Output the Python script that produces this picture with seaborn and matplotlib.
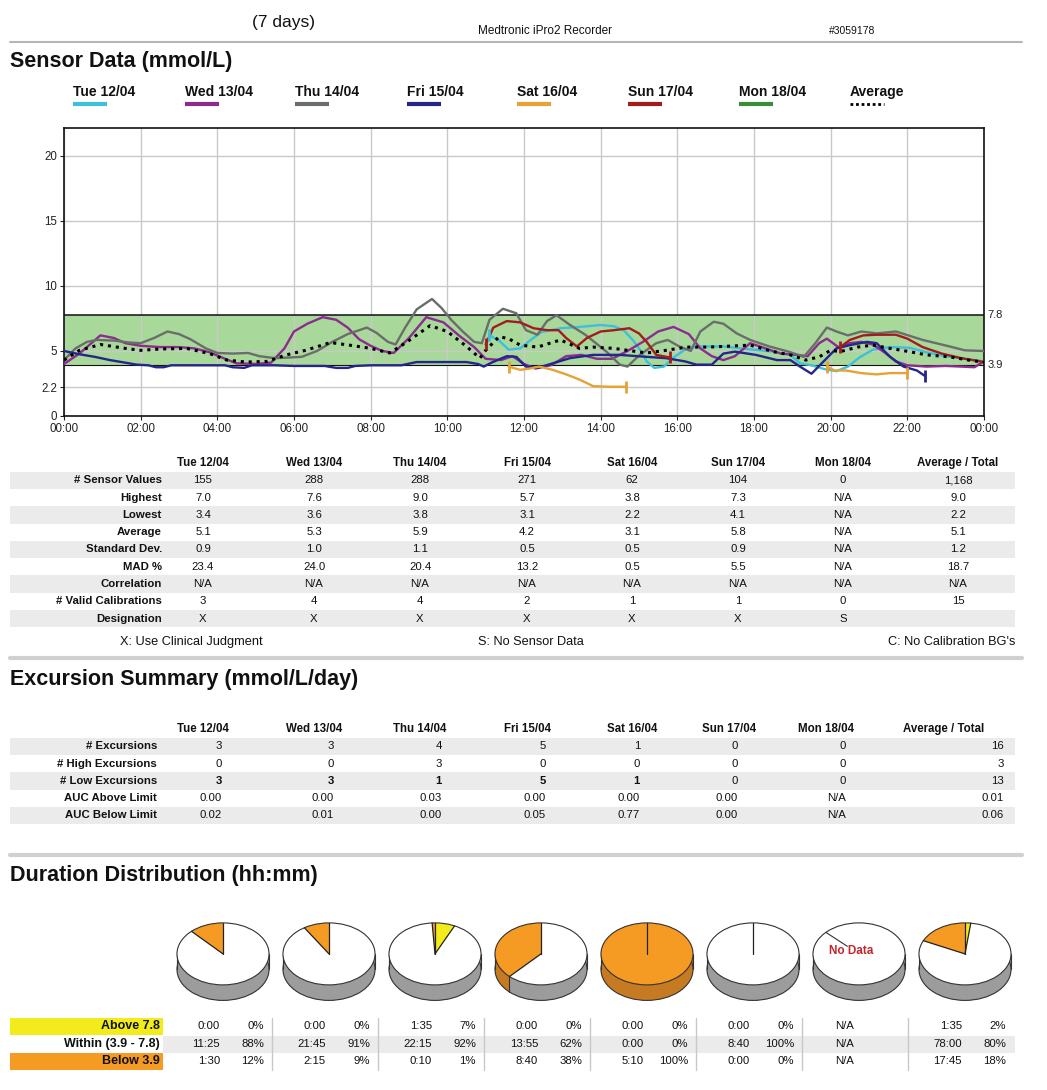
import numpy as np
import pandas as pd
import matplotlib
matplotlib.use('Agg')
import matplotlib.pyplot as plt
import seaborn as sns
from matplotlib.patches import Rectangle, Circle

sns.set_theme(style='white')
plt.rcParams['font.family'] = ['Liberation Sans', 'DejaVu Sans']

# ---------------- data ----------------
days = ['Tue 12/04', 'Wed 13/04', 'Thu 14/04', 'Fri 15/04', 'Sat 16/04', 'Sun 17/04', 'Mon 18/04']
day_colors = ['#3ebfdc', '#8c2c8f', '#6a6e6a', '#25258c', '#e6a234', '#a31c1c', '#3a8c3a']
legend_labels = days + ['Average']

tue_t = [11.1, 11.35, 11.6, 11.9, 12.2, 12.45, 12.95, 13.45, 14.0, 14.35, 14.6, 14.85, 15.05, 15.2, 15.4,
         15.65, 15.9, 16.25, 16.6, 17.2, 17.65, 18.0, 18.5, 18.95, 19.2, 19.5, 19.85, 20.15, 20.45, 20.75,
         21.1, 21.55, 22.05, 22.5, 23.0, 23.5, 24.0]
tue_v = [6.2, 5.8, 5.1, 5.2, 5.9, 6.45, 6.75, 6.85, 7.0, 6.9, 6.6, 5.8, 5.0, 4.2, 3.7,
         3.8, 4.5, 5.2, 5.35, 5.35, 5.2, 5.1, 4.95, 4.7, 4.05, 3.9, 3.6, 3.45, 3.8, 4.5,
         5.1, 5.3, 5.25, 4.9, 4.6, 4.4, 4.2]

wed_t = [0, 0.4, 0.95, 1.3, 1.6, 2.0, 2.5, 3.0, 3.4, 3.8, 4.2, 4.5, 5.0, 5.4, 5.75, 6.0, 6.35, 6.75, 7.1,
         7.4, 7.7, 8.0, 8.3, 8.6, 9.0, 9.45, 9.9, 10.3, 10.7, 11.0, 11.4, 11.7, 12.0, 12.3, 12.7, 13.1,
         13.5, 13.9, 14.3, 14.7, 15.1, 15.5, 15.9, 16.3, 16.6, 16.9, 17.2, 17.5, 17.9, 18.3, 18.7, 19.1,
         19.4, 19.7, 19.9, 20.2, 20.5, 20.8, 21.1, 21.4, 21.7, 22.0, 22.5, 23.0, 23.4, 23.75, 24.0]
wed_v = [4.0, 4.8, 6.2, 6.0, 5.6, 5.4, 5.3, 5.3, 5.2, 4.9, 4.4, 4.05, 4.0, 4.1, 5.2, 6.5, 7.1, 7.6, 7.4,
         6.8, 5.9, 5.4, 5.0, 4.85, 6.0, 7.6, 7.2, 6.2, 5.3, 4.4, 4.3, 4.6, 4.0, 3.65, 3.9, 4.6,
         4.7, 4.4, 4.4, 5.0, 5.7, 6.5, 6.85, 6.3, 5.2, 4.6, 4.3, 4.6, 5.6, 5.2, 4.8, 4.7,
         4.6, 5.6, 5.95, 5.3, 5.6, 5.7, 5.5, 4.9, 4.2, 3.9, 3.8, 3.85, 3.8, 3.75, 4.2]

thu_t = [0, 0.3, 0.6, 0.85, 1.3, 1.7, 2.0, 2.35, 2.7, 3.0, 3.3, 3.7, 4.0, 4.4, 4.8, 5.1, 5.5, 5.9, 6.2,
         6.6, 7.0, 7.4, 7.9, 8.15, 8.45, 8.65, 8.9, 9.2, 9.6, 9.85, 10.1, 10.4, 10.7, 10.9, 11.1, 11.45,
         11.8, 12.05, 12.35, 12.6, 12.85, 13.2, 13.6, 14.15, 14.5, 14.7, 15.0, 15.45, 15.75, 16.05,
         16.35, 16.6, 16.95, 17.2, 17.55, 17.9, 18.4, 18.9, 19.3, 19.6, 19.9, 20.15, 20.45, 20.8,
         21.2, 21.7, 22.4, 23.1, 23.5, 24.0]
thu_v = [4.3, 5.2, 5.7, 5.85, 5.8, 5.65, 5.6, 6.0, 6.5, 6.3, 5.9, 5.2, 4.85, 4.8, 4.85, 4.6, 4.45, 4.5, 4.55,
         5.0, 5.7, 6.3, 6.8, 6.4, 5.7, 5.5, 6.8, 8.2, 9.0, 8.3, 7.4, 6.5, 5.7, 5.6, 7.4, 8.25,
         7.9, 6.6, 6.25, 7.3, 7.75, 7.0, 6.25, 4.95, 3.95, 3.8, 4.65, 5.6, 5.85, 5.35,
         5.0, 6.5, 7.25, 7.1, 6.35, 5.85, 5.35, 4.95, 4.55, 5.6, 6.8, 6.5, 6.2, 6.5,
         6.35, 6.5, 5.85, 5.35, 5.05, 5.0]

fri_t = [0, 0.4, 0.8, 1.2, 1.6, 1.9, 2.2, 2.4, 2.6, 2.8, 3.5, 4.2, 4.4, 4.7, 4.9, 5.5, 6.0, 6.8, 7.1, 7.4,
         7.6, 8.0, 8.8, 9.2, 9.5, 10.5, 10.8, 10.95, 11.15, 11.55, 11.8, 12.05, 12.35, 12.75, 13.2, 13.8,
         14.5, 15.2, 15.7, 16.2, 16.5, 16.9, 17.2, 17.5, 18.05, 18.6, 18.95, 19.2, 19.5, 19.8, 20.15,
         20.5, 20.95, 21.2, 21.55, 21.9, 22.25, 22.45]
fri_v = [5.0, 4.75, 4.55, 4.3, 4.1, 3.95, 3.9, 3.75, 3.75, 3.9, 3.9, 3.9, 3.75, 3.7, 3.9, 3.9, 3.85, 3.85, 3.7, 3.7,
         3.85, 3.9, 3.9, 4.15, 4.15, 4.15, 4.0, 3.8, 4.1, 4.6, 4.55, 3.8, 3.7, 4.05, 4.45, 4.7,
         4.7, 4.55, 4.45, 4.2, 3.95, 3.95, 4.8, 4.95, 4.7, 4.3, 4.3, 3.8, 3.25, 4.15, 5.2,
         5.45, 5.7, 5.6, 4.55, 3.8, 3.5, 3.1]

sat1_t = [11.6, 11.9, 12.15, 12.4, 12.75, 13.1, 13.45, 13.8, 14.2, 14.65]
sat1_v = [3.8, 3.55, 3.65, 3.8, 3.55, 3.2, 2.8, 2.3, 2.25, 2.25]
sat2_t = [19.9, 20.1, 20.4, 20.8, 21.2, 21.55, 22.0]
sat2_v = [3.8, 3.5, 3.5, 3.3, 3.2, 3.3, 3.3]

sun1_t = [11.0, 11.2, 11.55, 11.9, 12.25, 12.6, 12.9, 13.1, 13.38, 13.64, 14.0, 14.35, 14.75, 15.0, 15.2, 15.45, 15.8]
sun1_v = [5.5, 6.8, 7.3, 7.2, 6.75, 6.6, 6.6, 6.0, 5.35, 6.0, 6.5, 6.6, 6.75, 6.35, 5.7, 4.7, 4.5]
sun2_t = [20.25, 20.5, 20.85, 21.2, 21.7, 22.0, 22.4, 22.9, 23.4, 24.0]
sun2_v = [5.3, 5.85, 6.2, 6.25, 6.25, 5.95, 5.3, 4.8, 4.45, 4.15]

avg_t = [0, 0.4, 0.95, 1.6, 2.0, 2.5, 3.2, 3.8, 4.25, 4.75, 5.3, 5.8, 6.3, 6.95, 7.45, 8.0, 8.5, 8.95, 9.55,
         10.0, 10.5, 10.85, 11.0, 11.35, 11.6, 11.9, 12.35, 12.95, 13.45, 13.8, 14.35, 14.7, 15.2, 15.7,
         16.25, 16.8, 17.2, 17.9, 18.5, 18.95, 19.35, 19.7, 20.0, 20.25, 20.7, 21.1, 21.55, 22.05, 22.5,
         23.1, 23.7, 24.0]
avg_v = [4.3, 5.05, 5.5, 5.2, 5.05, 5.15, 5.2, 4.8, 4.3, 4.15, 4.2, 4.7, 5.05, 5.65, 5.45, 5.2, 4.85, 5.7, 6.95,
         6.5, 5.35, 4.45, 5.05, 6.1, 5.95, 5.45, 5.3, 5.85, 5.2, 5.3, 5.2, 5.05, 4.85, 5.05,
         5.3, 5.3, 5.35, 5.45, 4.95, 4.7, 4.3, 4.55, 5.05, 4.95, 5.3, 5.45, 5.2, 4.95, 4.7,
         4.55, 4.25, 4.15]

target_low, target_high = 3.9, 7.8
y_ticks = [0, 2.2, 5, 10, 15, 20]
y_ticklabels = ['0', '2.2', '5', '10', '15', '20']
x_ticks = list(range(0, 25, 2))
x_ticklabels = ['00:00', '02:00', '04:00', '06:00', '08:00', '10:00', '12:00', '14:00',
                '16:00', '18:00', '20:00', '22:00', '00:00']

stat_header = days + ['Average / Total']
stat_rows = ['# Sensor Values', 'Highest', 'Lowest', 'Average', 'Standard Dev.', 'MAD %',
             'Correlation', '# Valid Calibrations', 'Designation']
sensor_values = ['155', '288', '288', '271', '62', '104', '0', '1,168']
highest = ['7.0', '7.6', '9.0', '5.7', '3.8', '7.3', 'N/A', '9.0']
lowest = ['3.4', '3.6', '3.8', '3.1', '2.2', '4.1', 'N/A', '2.2']
average = ['5.1', '5.3', '5.9', '4.2', '3.1', '5.8', 'N/A', '5.1']
std_dev = ['0.9', '1.0', '1.1', '0.5', '0.5', '0.9', 'N/A', '1.2']
mad_pct = ['23.4', '24.0', '20.4', '13.2', '0.5', '5.5', 'N/A', '18.7']
correlation = ['N/A', 'N/A', 'N/A', 'N/A', 'N/A', 'N/A', 'N/A', 'N/A']
valid_cal = ['3', '4', '4', '2', '1', '1', '0', '15']
designation = ['X', 'X', 'X', 'X', 'X', 'X', 'S', '']
footnotes = ['X: Use Clinical Judgment', 'S: No Sensor Data', "C: No Calibration BG's"]

exc_rows = ['# Excursions', '# High Excursions', '# Low Excursions', 'AUC Above Limit', 'AUC Below Limit']
exc_total = ['3', '3', '4', '5', '1', '0', '0', '16']
exc_high = ['0', '0', '3', '0', '0', '0', '0', '3']
exc_low = ['3', '3', '1', '5', '1', '0', '0', '13']
auc_above = ['0.00', '0.00', '0.03', '0.00', '0.00', '0.00', 'N/A', '0.01']
auc_below = ['0.02', '0.01', '0.00', '0.05', '0.77', '0.00', 'N/A', '0.06']

dur_labels = ['Above 7.8', 'Within (3.9 - 7.8)', 'Below 3.9']
above_time = ['0:00', '0:00', '1:35', '0:00', '0:00', '0:00', 'N/A', '1:35']
above_pct = ['0%', '0%', '7%', '0%', '0%', '0%', '', '2%']
within_time = ['11:25', '21:45', '22:15', '13:55', '0:00', '8:40', 'N/A', '78:00']
within_pct = ['88%', '91%', '92%', '62%', '0%', '100%', '', '80%']
below_time = ['1:30', '2:15', '0:10', '8:40', '5:10', '0:00', 'N/A', '17:45']
below_pct = ['12%', '9%', '1%', '38%', '100%', '0%', '', '18%']

# ---------------- figure ----------------
W, H = 1047, 1090
fig = plt.figure(figsize=(W / 100, H / 100), dpi=100, facecolor='white')
bg = fig.add_axes([0, 0, 1, 1])
bg.set_xlim(0, W)
bg.set_ylim(H, 0)
bg.axis('off')


def px_axes(left, top, width, height):
    return fig.add_axes([left / W, 1 - (top + height) / H, width / W, height / H])


TXT = '#111111'
GRAYROW = '#ebebeb'
TITLE_FS = 15.5

# header
bg.text(283, 22, '(7 days)', fontsize=12.5, ha='center', va='center', color=TXT)
bg.text(545, 31, 'Medtronic iPro2 Recorder', fontsize=8.5, ha='center', va='center', color=TXT)
bg.text(852, 31, '#3059178', fontsize=7.5, ha='center', va='center', color=TXT)
bg.plot([10, 1022], [42, 42], color='#b5b5b5', lw=1.5)

bg.text(10, 62, 'Sensor Data (mmol/L)', fontsize=TITLE_FS, fontweight='bold', ha='left', va='center', color=TXT)

# legend
leg_x = [73, 185, 295, 407, 517, 628, 739, 850]
for lx, lab, col in zip(leg_x, legend_labels, day_colors + ['black']):
    bg.text(lx, 92, lab, fontsize=10, fontweight='bold', ha='left', va='center', color=TXT)
    if lab == 'Average':
        bg.plot([lx, lx + 34], [104, 104], color='black', lw=2, linestyle=(0, (1, 1)))
    else:
        bg.plot([lx, lx + 34], [104, 104], color=col, lw=3, solid_capstyle='butt')

# ---------------- main chart ----------------
ax = px_axes(64, 128, 920, 288)
ax.set_xlim(0, 24)
ax.set_ylim(0, 22.15)
ax.axhspan(target_low, target_high, color='#a9d89b', zorder=0.3, lw=0)
ax.set_xticks(x_ticks)
ax.set_xticklabels(x_ticklabels)
ax.set_yticks(y_ticks)
ax.set_yticklabels(y_ticklabels)
ax.grid(True, color='#c9c9c9', lw=1)
ax.set_axisbelow(True)
ax.tick_params(axis='both', labelsize=8.3, colors='#222222', length=3, width=0.8, pad=2)
ax.tick_params(axis='both', left=True, bottom=True)
for sp in ax.spines.values():
    sp.set_color('#111111')
    sp.set_linewidth(1.2)
ax.axhline(target_high, color='#111111', lw=1.1, zorder=1)
ax.axhline(target_low, color='#111111', lw=0.8, zorder=1)
ax.text(24.1, target_high, '7.8', fontsize=8, va='center', ha='left', color='#222222', clip_on=False)
ax.text(24.1, target_low, '3.9', fontsize=8, va='center', ha='left', color='#222222', clip_on=False)

segments = [
    ('Tue 12/04', 'tue', tue_t, tue_v),
    ('Wed 13/04', 'wed', wed_t, wed_v),
    ('Thu 14/04', 'thu', thu_t, thu_v),
    ('Fri 15/04', 'fri', fri_t, fri_v),
    ('Sat 16/04', 'sat1', sat1_t, sat1_v),
    ('Sat 16/04', 'sat2', sat2_t, sat2_v),
    ('Sun 17/04', 'sun1', sun1_t, sun1_v),
    ('Sun 17/04', 'sun2', sun2_t, sun2_v),
]
rows = []
for day, seg, ts, vs in segments:
    for t, v in zip(ts, vs):
        rows.append((day, seg, t, v))
df = pd.DataFrame(rows, columns=['day', 'seg', 't', 'v'])
palette = dict(zip(days, day_colors))
sns.lineplot(data=df, x='t', y='v', hue='day', units='seg', estimator=None, palette=palette,
             hue_order=[d for d in days if d in set(df['day'])], lw=1.7, legend=False, ax=ax, zorder=3)
sns.lineplot(x=avg_t, y=avg_v, color='black', lw=2.2, linestyle=(0, (1, 1.6)), ax=ax, zorder=4)

# segment start / end ticks (where sensor data begins or stops mid-day)
for day, seg, ts, vs in segments:
    col = palette[day]
    for t, v in [(ts[0], vs[0]), (ts[-1], vs[-1])]:
        if 0.05 < t < 23.95:
            ax.plot([t], [v], marker='|', markersize=9, mew=2, color=col, zorder=5)
ax.set_xlabel('')
ax.set_ylabel('')

# ---------------- statistics table ----------------
stat_x = [203, 314, 420, 527, 632, 738, 843, 958]
stat_y0 = 463
row_h = 17.3
for x, lab in zip(stat_x, stat_header):
    bg.text(x, stat_y0, lab, fontsize=8.3, fontweight='bold', ha='center', va='center', color=TXT)
stat_values = [sensor_values, highest, lowest, average, std_dev, mad_pct, correlation, valid_cal, designation]
for r, (lab, vals) in enumerate(zip(stat_rows, stat_values)):
    y = stat_y0 + row_h * (r + 1)
    if r % 2 == 0:
        bg.add_patch(Rectangle((10, y - row_h / 2), 1005, row_h, color=GRAYROW, lw=0, zorder=0))
    bg.text(162, y, lab, fontsize=8.2, fontweight='bold', ha='right', va='center', color=TXT)
    for x, v in zip(stat_x, vals):
        bg.text(x, y, v, fontsize=8.2, ha='center', va='center', color=TXT)
bg.text(191, 642, footnotes[0], fontsize=9.2, ha='center', va='center', color=TXT)
bg.text(531, 642, footnotes[1], fontsize=9.2, ha='center', va='center', color=TXT)
bg.text(1015, 642, footnotes[2], fontsize=9.2, ha='right', va='center', color=TXT)
bg.plot([10, 1022], [658, 658], color='#d0d0d0', lw=3)

# ---------------- excursion summary ----------------
bg.text(10, 680, 'Excursion Summary (mmol/L/day)', fontsize=TITLE_FS, fontweight='bold', ha='left', va='center', color=TXT)
exc_hx = [203, 314, 420, 527, 632, 729, 826, 944]
exc_vx = [222, 334, 442, 546, 640, 738, 846, 1004]
exc_y0 = 729
for x, lab in zip(exc_hx, stat_header):
    bg.text(x, exc_y0, lab, fontsize=8.3, fontweight='bold', ha='center', va='center', color=TXT)
exc_values = [exc_total, exc_high, exc_low, auc_above, auc_below]
for r, (lab, vals) in enumerate(zip(exc_rows, exc_values)):
    y = exc_y0 + row_h * (r + 1)
    if r % 2 == 0:
        bg.add_patch(Rectangle((10, y - row_h / 2), 1005, row_h, color=GRAYROW, lw=0, zorder=0))
    bg.text(157, y, lab, fontsize=8.2, fontweight='bold', ha='right', va='center', color=TXT)
    for j, (x, v) in enumerate(zip(exc_vx, vals)):
        bold = (r == 2 and v != '0' and j < 7)
        bg.text(x, y, v, fontsize=8.2, ha='right', va='center', color=TXT,
                fontweight='bold' if bold else 'normal')
bg.plot([10, 1022], [855, 855], color='#d0d0d0', lw=3)

# ---------------- duration distribution ----------------
bg.text(10, 876, 'Duration Distribution (hh:mm)', fontsize=TITLE_FS, fontweight='bold', ha='left', va='center', color=TXT)

ORANGE = '#f59b23'
YELLOW = '#f2ec1c'
top_cols = [ORANGE, 'white', YELLOW]
side_cols = ['#c67b22', '#9c9c9c', '#b9b324']
centers = [223 + 106 * i for i in range(8)]
depth = 0.5


def pct(s):
    return float(s.rstrip('%')) if s else 0.0


for i, c in enumerate(centers):
    pax = px_axes(c - 48, 921.5, 96, 82)
    nodata = below_time[i] == 'N/A'
    vals = [pct(below_pct[i]), pct(within_pct[i]), pct(above_pct[i])]
    if nodata:
        vals = [0, 1, 0]
    keep = [k for k in range(3) if vals[k] > 0]
    vv = [vals[k] for k in keep]
    for off in np.linspace(depth, 0.02, 26):
        pax.pie(vv, colors=[side_cols[k] for k in keep], startangle=90, counterclock=True,
                center=(0, -off), radius=1, wedgeprops=dict(linewidth=0, zorder=1))
    pax.add_patch(Circle((0, -depth), 1, fill=False, ec='#333333', lw=0.8, zorder=2))
    pax.plot([-1, -1], [0, -depth], color='#333333', lw=0.8, zorder=2)
    pax.plot([1, 1], [0, -depth], color='#333333', lw=0.8, zorder=2)
    wedges, _ = pax.pie(vv, colors=[top_cols[k] for k in keep], startangle=90, counterclock=True,
                        radius=1, wedgeprops=dict(linewidth=0, zorder=3))
    pax.add_patch(Circle((0, 0), 1, fill=False, ec='#333333', lw=0.8, zorder=4))
    if nodata:
        a = np.deg2rad(136)
        pax.plot([0.35 * np.cos(a), np.cos(a)], [0.35 * np.sin(a), np.sin(a)], color='#333333', lw=0.8, zorder=4)
        pax.text(-0.17, 0.08, 'No Data', color='#c3262c', fontsize=8.5, fontweight='bold',
                 ha='center', va='center', zorder=5)
    else:
        for w in wedges:
            a = np.deg2rad(w.theta1)
            pax.plot([0, np.cos(a)], [0, np.sin(a)], color='#222222', lw=0.9, zorder=4)
            if len(wedges) > 1 and np.sin(a) < -0.05:
                pax.plot([np.cos(a), np.cos(a)], [np.sin(a), np.sin(a) - depth], color='#333333', lw=0.8, zorder=2)
    pax.set_aspect('auto')
    pax.set_xlim(-1.043, 1.043)
    pax.set_ylim(-1.6, 1.045)
    pax.axis('off')

dur_y = [1026, 1044, 1061]
bg.add_patch(Rectangle((10, 1017.5), 153, 17.5, color=YELLOW, lw=0, zorder=0))
bg.add_patch(Rectangle((10, 1052.5), 153, 17.5, color=ORANGE, lw=0, zorder=0))
bg.add_patch(Rectangle((163, 1035.5), 852, 17, color=GRAYROW, lw=0, zorder=0))
dur_times = [above_time, within_time, below_time]
dur_pcts = [above_pct, within_pct, below_pct]
for r in range(3):
    y = dur_y[r]
    bg.text(160, y, dur_labels[r], fontsize=9, fontweight='bold', ha='right', va='center', color=TXT)
    for i, c in enumerate(centers):
        t = dur_times[r][i]
        if t == 'N/A':
            bg.text(c - 14, y, t, fontsize=8.2, ha='center', va='center', color=TXT)
        else:
            bg.text(c - 3, y, t, fontsize=8.2, ha='right', va='center', color=TXT)
            bg.text(c + 41, y, dur_pcts[r][i], fontsize=8.2, ha='right', va='center', color=TXT)
for c in centers[:-1]:
    bg.plot([c + 49, c + 49], [1018, 1070], color='#c8c8c8', lw=1)

fig.savefig('out.png', dpi=100, facecolor='white')
